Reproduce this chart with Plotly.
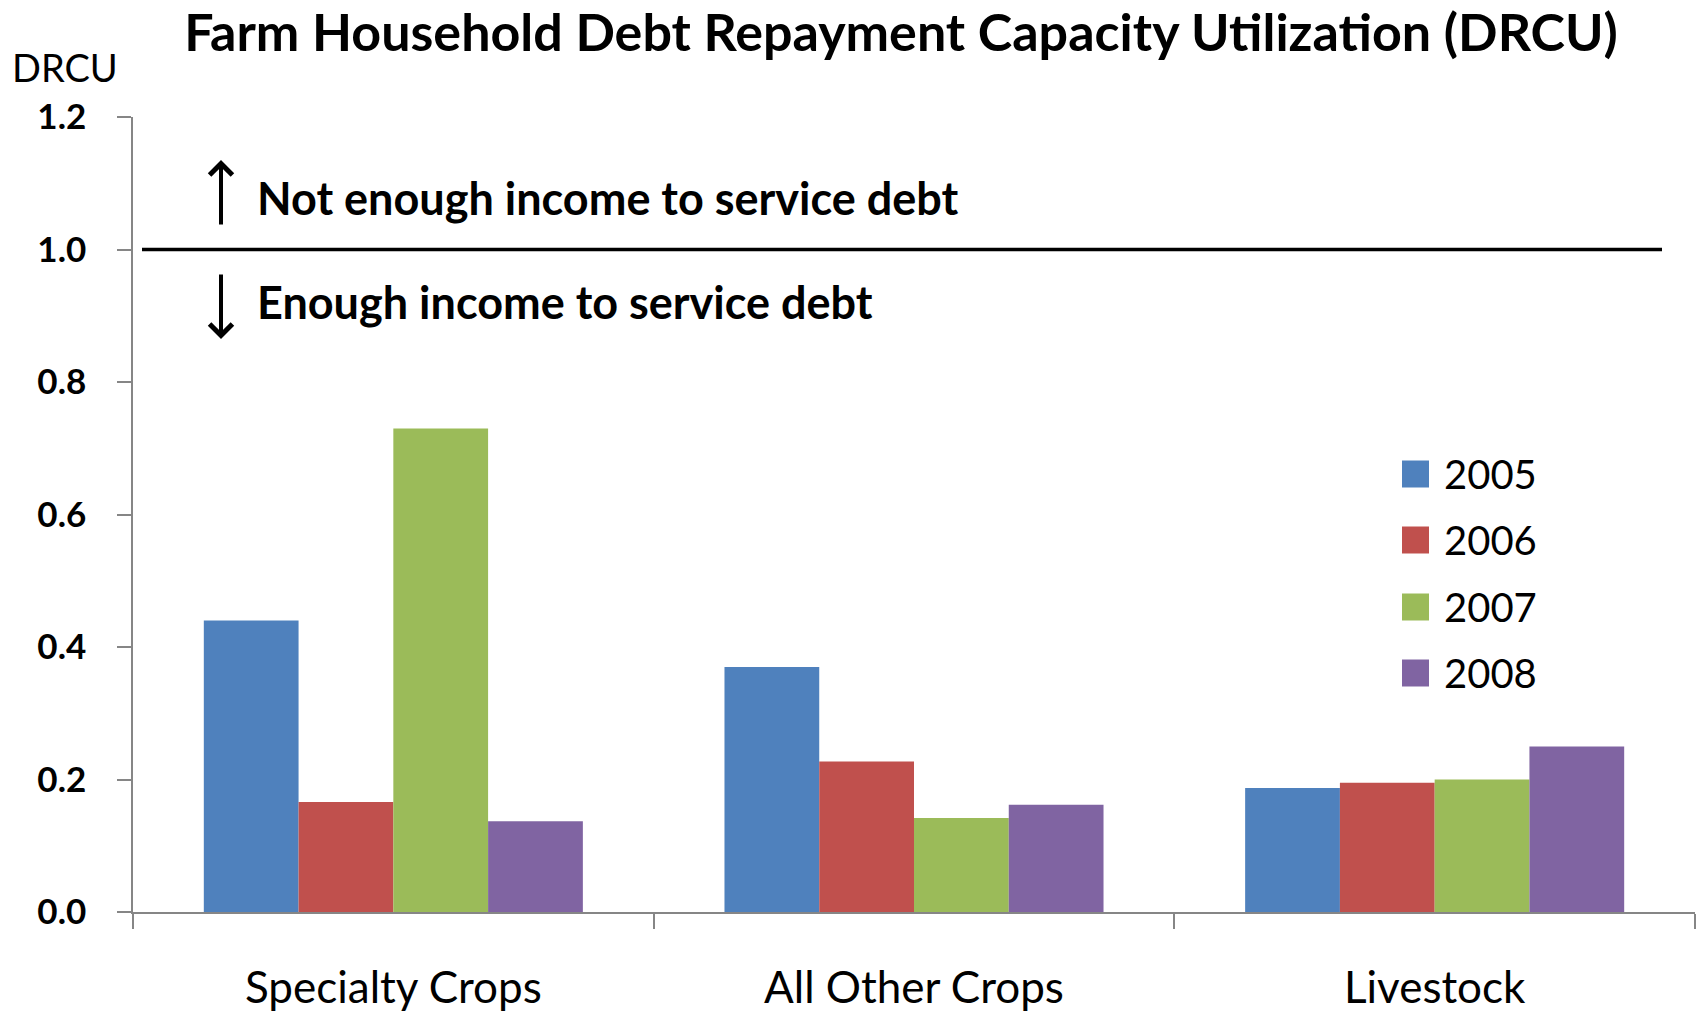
import plotly.graph_objects as go

# Farm household debt repayment capacity utilization by farm type and year
CATEGORIES = ["Specialty Crops", "All Other Crops", "Livestock"]
YEARS = ["2005", "2006", "2007", "2008"]
DRCU_2005 = [0.44, 0.37, 0.187]
DRCU_2006 = [0.166, 0.227, 0.195]
DRCU_2007 = [0.73, 0.142, 0.20]
DRCU_2008 = [0.137, 0.162, 0.25]
SERIES = [DRCU_2005, DRCU_2006, DRCU_2007, DRCU_2008]
COLORS = ["#4F81BD", "#C0504D", "#9BBB59", "#8064A2"]
Y_TICKS = [0.0, 0.2, 0.4, 0.6, 0.8, 1.0, 1.2]
Y_TICK_TEXT = ["<b>0.0</b>", "<b>0.2</b>", "<b>0.4</b>", "<b>0.6</b>",
               "<b>0.8</b>", "<b>1.0</b>", "<b>1.2</b>"]
THRESHOLD = 1.0

W, H = 1700, 1013
L, R, T, B = 133, 5, 117, 101
AXIS_GREY = "#868686"
FONT = "Lato"

fig = go.Figure()
for year, vals, col in zip(YEARS, SERIES, COLORS):
    fig.add_trace(go.Bar(
        x=CATEGORIES, y=vals, name=year,
        marker=dict(color=col, line=dict(width=0)),
        showlegend=False,
    ))

plot_w = W - L - R
plot_h = H - T - B


def px_x(px):
    return (px - L) / plot_w


def px_y(px):
    return (H - B - px) / plot_h


# Threshold line at DRCU = 1
fig.add_shape(type="line", xref="paper", yref="y",
              x0=px_x(142), x1=px_x(1662), y0=THRESHOLD, y1=THRESHOLD,
              line=dict(color="black", width=3.5))

# Up / down arrows next to the threshold notes
ymax = Y_TICKS[-1]
fig.add_annotation(xref="paper", yref="paper", x=px_x(221), y=px_y(160),
                   ax=0, ay=66, text="", showarrow=True,
                   arrowhead=4, arrowsize=1.1, arrowwidth=4, arrowcolor="black")
fig.add_annotation(xref="paper", yref="paper", x=px_x(221), y=px_y(339),
                   ax=0, ay=-66, text="", showarrow=True,
                   arrowhead=4, arrowsize=1.1, arrowwidth=4, arrowcolor="black")
fig.add_annotation(xref="paper", yref="paper", x=px_x(255), y=px_y(198),
                   xanchor="left", yanchor="middle", showarrow=False,
                   text="<b>Not enough income to service debt</b>",
                   font=dict(family=FONT, size=45, color="black"))
fig.add_annotation(xref="paper", yref="paper", x=px_x(255), y=px_y(302),
                   xanchor="left", yanchor="middle", showarrow=False,
                   text="<b>Enough income to service debt</b>",
                   font=dict(family=FONT, size=45, color="black"))

# Axis caption
fig.add_annotation(xref="paper", yref="paper", x=px_x(10), y=px_y(67),
                   xanchor="left", yanchor="middle", showarrow=False,
                   text="DRCU", font=dict(family=FONT, size=38, color="black"))

# Legend: coloured squares with year labels
legend_rows = [474, 540, 607, 673]
for year, col, yc in zip(YEARS, COLORS, legend_rows):
    fig.add_shape(type="rect", xref="paper", yref="paper",
                  x0=px_x(1402), x1=px_x(1429),
                  y0=px_y(yc + 13.5), y1=px_y(yc - 13.5),
                  fillcolor=col, line=dict(width=0))
    fig.add_annotation(xref="paper", yref="paper", x=px_x(1442), y=px_y(yc),
                       xanchor="left", yanchor="middle", showarrow=False,
                       text=year, font=dict(family=FONT, size=40, color="black"))

fig.update_layout(
    width=W, height=H,
    margin=dict(l=L, r=R, t=T, b=B, pad=0, autoexpand=False),
    paper_bgcolor="white", plot_bgcolor="white",
    barmode="group", bargap=0.272, bargroupgap=0,
    title=dict(text="<b>Farm Household Debt Repayment Capacity Utilization (DRCU)</b>",
               x=0.53, xanchor="center", y=1 - 33 / H, yanchor="middle",
               font=dict(family=FONT, size=52, color="black")),
    font=dict(family=FONT, color="black"),
    showlegend=False,
)
fig.update_xaxes(
    automargin=False,
    showline=True, linecolor=AXIS_GREY, linewidth=1.5,
    ticks="outside", tickson="boundaries", ticklen=15, tickcolor=AXIS_GREY, tickwidth=1.5,
    tickfont=dict(family=FONT, size=44, color="black"),
    ticklabelstandoff=36,
    showgrid=False, zeroline=False,
)
fig.update_yaxes(
    automargin=False,
    range=[0, ymax], tickvals=Y_TICKS, ticktext=Y_TICK_TEXT,
    showline=True, linecolor=AXIS_GREY, linewidth=1.5,
    ticks="outside", ticklen=14, tickcolor=AXIS_GREY, tickwidth=1.5,
    tickfont=dict(family=FONT, size=35, color="black"),
    ticklabelstandoff=24,
    showgrid=False, zeroline=False,
)

fig.write_html("out.html")
